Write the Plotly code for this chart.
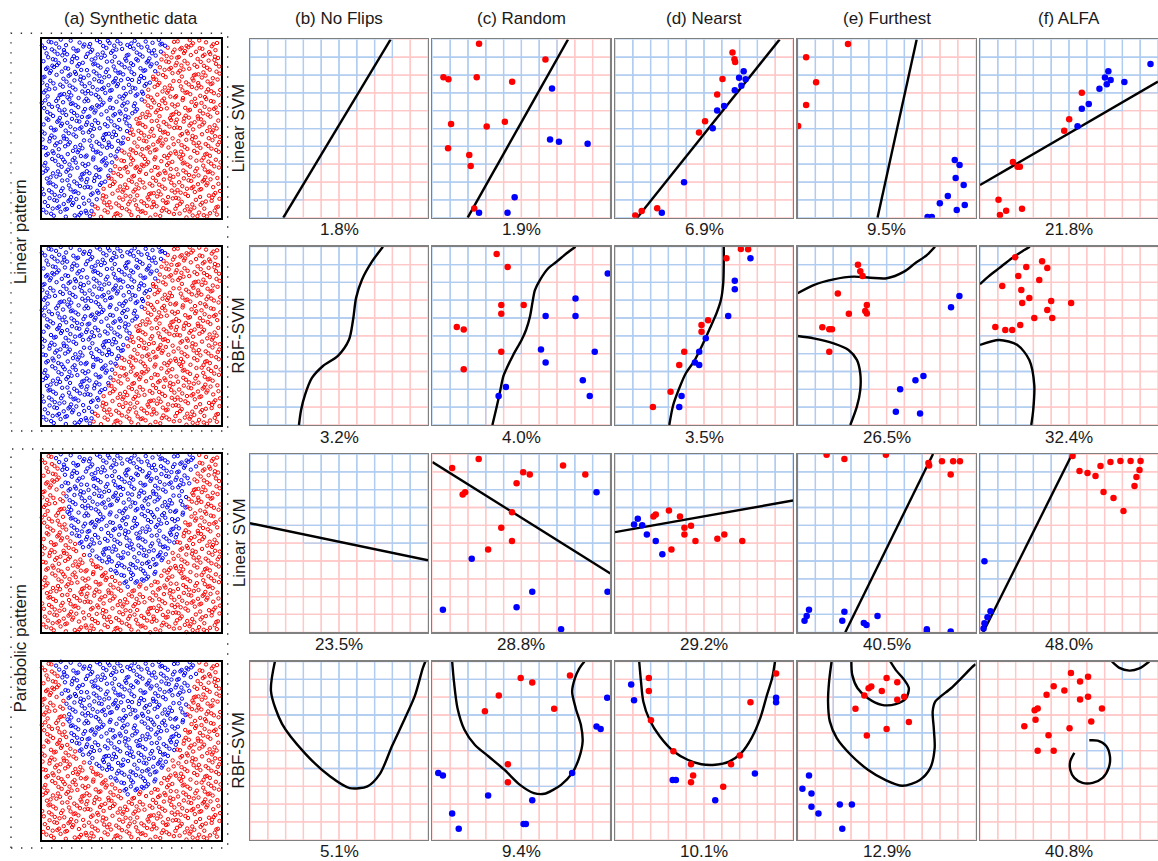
import numpy as np
import plotly.graph_objects as go

W, H = 1158, 861

COL_TITLES = ["(a) Synthetic data", "(b) No Flips", "(c) Random", "(d) Nearst", "(e) Furthest", "(f) ALFA"]
ROW_LABELS = ["Linear SVM", "RBF-SVM", "Linear SVM", "RBF-SVM"]
GROUP_LABELS = ["Linear pattern", "Parabolic pattern"]
ERROR_RATES = [
    ["1.8%", "1.9%", "6.9%", "9.5%", "21.8%"],
    ["3.2%", "4.0%", "3.5%", "26.5%", "32.4%"],
    ["23.5%", "28.8%", "29.2%", "40.5%", "48.0%"],
    ["5.1%", "9.4%", "10.1%", "12.9%", "40.8%"],
]

# ---- synthetic data class boundaries (panel units 0..10) ----
LIN_PATTERN_LINE = [[2.7, 0.0], [7.15, 10.0]]
PARA_H = [2.4, 3.3, 5.14, 7.0, 10.0]
PARA_L = [5.0, 3.8, 1.7, 1.4, 0.7]
PARA_R = [5.0, 6.4, 7.5, 8.1, 8.8]
N_SYNTH = 1050

# ---- row 1 : linear pattern, linear SVM ----
B1_LINE = [[1.87, 0.0], [7.90, 10.0]]
C1_LINE = [[1.98, 0.0], [7.62, 10.0]]
C1_RED = [[2.62, 9.76], [6.35, 8.87], [0.62, 7.88], [0.90, 7.77], [2.49, 7.88], [4.48, 7.62], [1.05, 5.25],
          [3.05, 5.12], [4.07, 5.38], [0.88, 3.90], [2.07, 3.51], [2.15, 2.90], [2.35, 0.52]]
C1_BLUE = [[6.72, 7.24], [6.61, 4.39], [7.11, 4.26], [8.72, 4.15], [4.62, 1.14], [2.62, 0.28], [4.22, 0.28]]
D1_LINE = [[1.25, 0.0], [9.25, 10.0]]
D1_RED = [[6.60, 9.26], [6.71, 8.88], [6.75, 8.73], [6.04, 7.78], [5.74, 6.91], [5.06, 5.41], [4.72, 4.78],
          [2.37, 0.53], [1.50, 0.37], [1.14, 0.13]]
D1_BLUE = [[7.23, 8.22], [6.97, 7.85], [7.34, 7.76], [7.10, 7.40], [6.73, 7.15], [6.13, 6.27], [5.74, 6.01],
           [5.49, 5.02], [3.88, 1.99], [2.63, 0.28]]
E1_LINE = [[4.49, 0.0], [6.69, 10.0]]
E1_RED = [[2.83, 9.74], [0.48, 9.0], [1.04, 7.6], [0.48, 6.32], [0.03, 5.14]]
E1_BLUE = [[8.83, 3.23], [9.10, 2.95], [8.88, 2.23], [9.33, 1.83], [8.44, 1.22], [7.99, 0.81], [8.94, 0.43],
           [9.39, 0.71], [7.30, 0.04], [7.54, 0.04]]
F1_LINE = [[0.0, 1.83], [10.0, 7.63]]
F1_RED = [[5.72, 7.01], [5.01, 5.52], [4.73, 4.88], [1.85, 3.12], [2.11, 2.86], [2.24, 2.86], [1.04, 1.01],
          [1.47, 0.39], [1.12, 0.15], [2.36, 0.50]]
F1_BLUE = [[9.58, 8.62], [7.21, 8.22], [7.02, 7.87], [7.34, 7.72], [8.11, 7.61], [7.12, 7.48], [6.71, 7.23],
           [6.11, 6.37], [5.72, 6.11], [5.48, 5.13]]

# ---- row 2 : linear pattern, RBF SVM ----
B2_CURVE = [[7.47, 10], [6.85, 9.16], [6.29, 8.15], [5.96, 7.13], [5.79, 5.90], [5.56, 4.78], [4.94, 3.88],
            [4.10, 3.31], [3.48, 2.64], [3.09, 1.69], [2.87, 0.84], [2.75, 0]]
C2_CURVE = [[8.04, 10.0], [7.54, 9.63], [6.98, 9.16], [6.51, 8.79], [6.04, 8.13], [5.76, 7.57], [5.63, 6.92],
            [5.48, 6.07], [5.26, 5.33], [5.01, 4.77], [4.54, 3.93], [4.13, 3.08], [3.98, 2.71], [3.76, 1.68],
            [3.57, 0.84], [3.37, 0.0]]
C2_RED = [[3.61, 9.59], [4.23, 8.86], [3.87, 6.73], [5.13, 6.73], [3.87, 6.24], [1.37, 5.50], [1.76, 5.36],
          [3.87, 4.11], [1.76, 3.12]]
C2_BLUE = [[9.85, 8.49], [8.04, 7.10], [6.36, 6.11], [8.04, 6.11], [6.10, 4.24], [9.12, 4.11], [6.36, 3.50],
           [8.45, 2.51], [4.13, 2.13], [3.72, 1.63], [8.84, 1.63]]
D2_CURVE = [[6.11, 10.0], [6.11, 9.07], [6.08, 7.95], [5.95, 7.01], [5.70, 6.26], [5.33, 5.42], [4.86, 4.39],
            [4.43, 3.55], [3.98, 2.90], [3.61, 2.06], [3.27, 1.12], [3.05, 0.0]]
D2_RED = [[7.07, 9.87], [7.48, 9.85], [6.26, 9.35], [5.23, 5.87], [4.86, 5.61], [4.86, 5.23], [3.89, 4.11],
          [3.61, 3.37], [3.12, 1.87], [2.13, 1.01]]
D2_BLUE = [[7.61, 9.35], [6.73, 8.09], [6.73, 7.61], [6.36, 6.11], [5.10, 4.86], [4.73, 4.11], [4.49, 3.50],
           [4.73, 3.37], [3.74, 1.63], [3.61, 1.01]]
E2_CURVE_A = [[0.0, 7.39], [0.90, 7.85], [2.02, 8.17], [3.14, 8.32], [4.08, 8.26], [5.01, 8.23], [5.98, 8.60],
              [6.60, 9.07], [7.26, 9.53], [7.72, 10.0]]
E2_CURVE_B = [[0.0, 4.99], [0.90, 4.86], [2.02, 4.58], [2.86, 4.21], [3.33, 3.65], [3.52, 2.90], [3.52, 1.96],
              [3.33, 1.03], [2.96, 0.0]]
E2_RED = [[3.39, 8.99], [3.52, 8.62], [3.65, 8.36], [2.26, 7.37], [3.89, 6.73], [3.80, 6.39], [3.89, 6.26],
          [2.88, 6.24], [1.39, 5.48], [1.78, 5.37], [1.93, 5.37], [1.78, 4.11]]
E2_BLUE = [[9.09, 7.23], [8.62, 6.60], [7.07, 2.75], [6.62, 2.51], [5.76, 2.00], [5.52, 0.75], [6.88, 0.64]]
F2_CURVE_A = [[0.0, 7.9], [0.5, 8.35], [1.08, 8.8], [1.81, 9.37], [2.49, 9.81], [2.8, 10.0]]
F2_CURVE_B = [[0.0, 4.49], [1.08, 4.77], [2.1, 4.49], [2.77, 3.65], [3.05, 2.24], [2.99, 0.84], [2.88, 0.0]]
F2_RED = [[1.98, 9.41], [3.49, 9.19], [2.60, 8.86], [3.78, 8.80], [2.15, 8.36], [3.33, 8.13], [1.25, 7.80],
          [2.32, 7.57], [2.77, 7.12], [2.37, 6.84], [4.00, 6.95], [5.12, 6.84], [3.78, 6.45], [4.06, 6.00],
          [3.05, 6.00], [0.86, 5.50], [1.42, 5.33], [1.81, 5.33], [2.26, 5.61]]

# ---- row 3 : parabolic pattern, linear SVM ----
B3_LINE = [[0.0, 6.12], [10.0, 4.04]]
C3_LINE = [[0.0, 9.55], [10.0, 3.30]]
C3_RED = [[1.11, 9.22], [2.60, 9.72], [5.10, 8.98], [5.47, 8.85], [7.34, 9.35], [8.59, 8.85], [4.73, 8.36],
          [1.70, 7.73], [1.84, 7.86], [4.47, 6.74], [3.87, 5.87], [4.47, 5.12], [3.13, 4.64]]
C3_BLUE = [[9.22, 7.86], [2.21, 4.13], [5.61, 2.27], [9.84, 2.27], [0.59, 1.27], [4.73, 1.40], [7.23, 0.17]]
C3_PINK_CELLS = [[0, 9], [1, 9]]
D3_LINE = [[0.0, 5.62], [10.0, 7.39]]
D3_RED = [[2.29, 6.61], [2.16, 6.50], [3.03, 6.83], [3.65, 6.50], [3.90, 5.87], [4.27, 5.98], [3.90, 5.49],
          [4.52, 5.12], [5.75, 5.25], [6.14, 5.49], [7.15, 5.12], [3.17, 4.64]]
D3_BLUE = [[1.28, 6.37], [1.07, 6.05], [1.53, 6.00], [1.79, 5.49], [2.29, 5.12], [2.66, 4.38]]
E3_LINE = [[2.68, 0.0], [7.61, 10.0]]
E3_RED = [[1.63, 9.96], [2.63, 9.72], [4.96, 9.96], [7.35, 9.50], [7.39, 9.35], [8.11, 9.59], [8.74, 9.59],
          [9.12, 9.59], [8.60, 8.85]]
E3_BLUE = [[0.64, 1.27], [0.51, 0.91], [0.39, 0.65], [2.63, 1.15], [2.51, 0.65], [3.72, 0.52], [3.87, 0.41],
           [4.49, 0.91], [7.26, 0.17], [7.26, 0.04], [8.60, 0.04]]
F3_LINE = [[0.18, 0.0], [5.18, 10.0]]
F3_RED = [[5.20, 9.89], [5.59, 9.04], [6.04, 8.93], [6.49, 8.76], [6.77, 9.33], [7.33, 9.55], [7.89, 9.61],
          [8.46, 9.61], [9.02, 9.61], [6.94, 7.87], [7.50, 7.53], [8.68, 8.20], [8.79, 8.71], [8.96, 9.10],
          [8.06, 6.80]]
F3_BLUE = [[0.25, 3.99], [0.25, 0.51], [0.42, 0.84], [0.59, 1.18], [0.20, 0.22]]

# ---- row 4 : parabolic pattern, RBF SVM ----
B4_CURVE = [[1.4, 10], [1.18, 8.33], [1.8, 6.5], [3.09, 4.85], [4.49, 3.56], [5.6, 2.9], [6.6, 3.0], [7.3, 3.7],
            [7.98, 5.26], [8.7, 6.8], [9.27, 8.1], [9.7, 9.6], [9.85, 10]]
C4_CURVE = [[1.11, 10.0], [1.21, 8.88], [1.41, 7.38], [1.80, 6.17], [2.38, 5.33], [3.16, 4.67], [4.04, 3.93],
            [4.92, 3.08], [5.70, 2.62], [6.29, 2.58], [6.78, 2.80], [7.23, 3.08], [7.85, 3.74], [8.24, 4.58],
            [8.44, 5.51], [8.34, 6.45], [8.05, 7.38], [7.85, 8.32], [8.01, 9.07], [8.24, 9.59], [8.54, 10.0]]
C4_RED = [[4.96, 9.07], [5.61, 8.82], [3.73, 8.09], [2.95, 7.21], [6.84, 7.35], [7.73, 9.21], [4.24, 4.24],
          [4.24, 3.23]]
C4_BLUE = [[9.82, 7.96], [9.22, 6.36], [9.45, 6.22], [7.85, 3.74], [0.33, 3.74], [0.59, 3.61], [3.13, 2.49],
           [5.61, 2.22], [1.11, 1.48], [1.48, 0.62], [5.12, 0.88], [5.25, 0.88]]
D4_CURVE = [[1.36, 10.0], [1.46, 8.88], [1.59, 7.76], [1.94, 6.73], [2.52, 5.79], [3.30, 4.95], [4.08, 4.49],
            [4.85, 4.24], [5.63, 4.21], [6.41, 4.39], [7.09, 4.86], [7.67, 5.70], [8.16, 6.82], [8.54, 8.13],
            [8.83, 9.07], [8.99, 10.0]]
D4_RED = [[1.90, 9.08], [1.90, 8.34], [2.02, 6.71], [3.28, 4.97], [4.27, 4.24], [4.39, 3.61], [4.27, 3.23],
          [6.52, 4.24], [7.01, 4.73], [7.61, 7.72], [9.05, 9.33], [6.08, 2.97]]
D4_BLUE = [[0.91, 8.71], [1.07, 7.83], [3.24, 3.35], [3.42, 3.35], [7.86, 3.72], [5.63, 2.22], [9.05, 7.96],
           [9.05, 7.72]]
E4_CURVE_OUT = [[1.91, 10.0], [1.77, 8.88], [1.71, 7.76], [1.81, 6.64], [2.20, 5.70], [2.98, 4.77], [3.95, 3.93],
                [4.92, 3.36], [5.89, 3.03], [6.87, 3.36], [7.45, 4.02], [7.70, 5.14], [7.65, 6.26], [7.59, 7.20],
                [7.74, 7.76], [8.04, 8.04], [8.62, 8.50], [9.20, 9.07], [9.84, 9.72], [10.0, 9.85]]
E4_CURVE_IN = [[3.02, 10.0], [3.07, 9.25], [3.37, 8.50], [3.95, 7.94], [4.73, 7.57], [5.51, 7.61], [6.09, 7.94],
               [6.25, 8.50], [5.99, 8.97], [5.51, 9.53], [5.21, 10.0]]
E4_RED = [[5.00, 9.08], [5.60, 8.84], [4.73, 8.34], [3.99, 8.50], [4.14, 8.60], [3.75, 8.09], [5.60, 7.85],
          [5.99, 8.02], [3.25, 7.35], [6.25, 6.60], [5.00, 6.22], [3.89, 5.85]]
E4_BLUE = [[0.64, 3.61], [0.27, 2.86], [0.78, 2.60], [0.78, 1.85], [1.17, 1.48], [2.37, 1.98], [3.05, 1.98],
           [2.51, 0.62]]
F4_CURVE_ARC = [[7.41, 10.0], [7.83, 9.64], [8.39, 9.49], [8.95, 9.61], [9.51, 10.0]]
F4_CURVE_SPIRAL = [[6.14, 5.58], [6.61, 5.56], [7.08, 5.28], [7.30, 4.68], [7.23, 4.03], [6.89, 3.47],
                   [6.33, 3.19], [5.76, 3.19], [5.30, 3.47], [5.07, 3.93], [5.07, 4.40], [5.30, 4.87]]
F4_BLUE_CELLS = [[6, 5], [6, 4], [7, 4], [8, 9]]
F4_RED = [[5.11, 9.36], [6.07, 9.14], [5.62, 8.88], [4.14, 8.61], [4.74, 8.37], [3.74, 8.13], [5.62, 7.87],
          [6.07, 8.02], [3.24, 7.36], [3.07, 7.26], [6.85, 7.36], [3.12, 6.74], [6.25, 6.63], [2.49, 6.37],
          [5.03, 6.25], [3.85, 5.86], [3.24, 5.00], [4.14, 5.00]]

TOP_LEFT, BOT_LEFT, TOP_RIGHT = [0.0, 10.0], [0.0, 0.0], [10.0, 10.0]

# panel specs: (row, col) -> dict
PANELS = {
    (0, 1): dict(line=B1_LINE, blue_at=TOP_LEFT, red=[], blue=[]),
    (0, 2): dict(line=C1_LINE, blue_at=TOP_LEFT, red=C1_RED, blue=C1_BLUE),
    (0, 3): dict(line=D1_LINE, blue_at=TOP_LEFT, red=D1_RED, blue=D1_BLUE),
    (0, 4): dict(line=E1_LINE, blue_at=TOP_LEFT, red=E1_RED, blue=E1_BLUE),
    (0, 5): dict(line=F1_LINE, blue_at=TOP_LEFT, red=F1_RED, blue=F1_BLUE),
    (1, 1): dict(curves=[B2_CURVE], add=[B2_CURVE + [BOT_LEFT, TOP_LEFT]], red=[], blue=[]),
    (1, 2): dict(curves=[C2_CURVE], add=[C2_CURVE + [BOT_LEFT, TOP_LEFT]], red=C2_RED, blue=C2_BLUE),
    (1, 3): dict(curves=[D2_CURVE], add=[D2_CURVE + [BOT_LEFT, TOP_LEFT]], red=D2_RED, blue=D2_BLUE),
    (1, 4): dict(curves=[E2_CURVE_A, E2_CURVE_B], add=[E2_CURVE_A + [TOP_LEFT], E2_CURVE_B + [BOT_LEFT]],
                 red=E2_RED, blue=E2_BLUE),
    (1, 5): dict(curves=[F2_CURVE_A, F2_CURVE_B], add=[F2_CURVE_A + [TOP_LEFT], F2_CURVE_B + [BOT_LEFT]],
                 red=F2_RED, blue=[]),
    (2, 1): dict(line=B3_LINE, blue_at=TOP_LEFT, red=[], blue=[]),
    (2, 2): dict(line=C3_LINE, blue_at=TOP_RIGHT, red=C3_RED, blue=C3_BLUE, pink_cells=C3_PINK_CELLS),
    (2, 3): dict(line=D3_LINE, blue_at=TOP_LEFT, red=D3_RED, blue=D3_BLUE),
    (2, 4): dict(line=E3_LINE, blue_at=TOP_LEFT, red=E3_RED, blue=E3_BLUE),
    (2, 5): dict(line=F3_LINE, blue_at=TOP_LEFT, red=F3_RED, blue=F3_BLUE),
    (3, 1): dict(curves=[B4_CURVE], add=[B4_CURVE], red=[], blue=[]),
    (3, 2): dict(curves=[C4_CURVE], add=[C4_CURVE], red=C4_RED, blue=C4_BLUE),
    (3, 3): dict(curves=[D4_CURVE], add=[D4_CURVE], red=D4_RED, blue=D4_BLUE),
    (3, 4): dict(curves=[E4_CURVE_OUT, E4_CURVE_IN], add=[E4_CURVE_OUT + [TOP_RIGHT]], sub=[E4_CURVE_IN],
                 red=E4_RED, blue=E4_BLUE),
    (3, 5): dict(curves=[F4_CURVE_ARC, F4_CURVE_SPIRAL], cells=F4_BLUE_CELLS, red=F4_RED, blue=[]),
}

# ---- layout geometry (pixels) ----
COL_X = [41.7, 250.0, 432.4, 615.0, 797.6, 980.0]
ROW_Y = [39.4, 246.7, 454.0, 661.5]
PW, PH = 178.0, 178.3
A_W = 179.0

BLUE_GRID = "rgb(176,204,240)"
PINK_GRID = "rgb(255,200,200)"
RED = "#ff0000"
BLUE = "#0000ff"
FONT = "Liberation Sans, Arial, Helvetica, sans-serif"
FS = 17


def halton(n, base):
    out = np.zeros(n)
    for i in range(n):
        f, r, k = 1.0, 0.0, i + 1
        while k > 0:
            f /= base
            r += f * (k % base)
            k //= base
        out[i] = r
    return out


def inside_poly(px, py, poly):
    poly = np.asarray(poly, float)
    n = len(poly)
    inside = False
    j = n - 1
    for i in range(n):
        xi, yi = poly[i]
        xj, yj = poly[j]
        if (yi > py) != (yj > py):
            xc = (xj - xi) * (py - yi) / (yj - yi) + xi
            if px < xc:
                inside = not inside
        j = i
    return inside


def side(line, p):
    (x1, y1), (x2, y2) = line
    return np.sign((x2 - x1) * (p[1] - y1) - (y2 - y1) * (p[0] - x1))


def cell_classes(spec):
    cls = np.zeros((10, 10), bool)
    for j in range(10):
        for i in range(10):
            c = (i + 0.5, j + 0.5)
            if "line" in spec:
                b = side(spec["line"], c) == side(spec["line"], spec["blue_at"])
            elif "cells" in spec:
                b = [i, j] in spec["cells"]
            else:
                b = any(inside_poly(c[0], c[1], p) for p in spec.get("add", []))
                if b and any(inside_poly(c[0], c[1], p) for p in spec.get("sub", [])):
                    b = False
            if [i, j] in spec.get("pink_cells", []):
                b = False
            cls[j, i] = b
    return cls


fig = go.Figure()
layout_axes = {}
counter = [0]


def new_axes(x0, y0, w, h, line_color, line_width):
    counter[0] += 1
    n = counter[0]
    sx = "" if n == 1 else str(n)
    common = dict(range=[0, 10], showgrid=False, zeroline=False, showticklabels=False, ticks="",
                  showline=True, mirror=True, linecolor=line_color, linewidth=line_width, fixedrange=True)
    layout_axes["xaxis" + sx] = dict(domain=[max(0, x0 / W), min(1, (x0 + w) / W)], anchor="y" + sx, **common)
    layout_axes["yaxis" + sx] = dict(domain=[max(0, 1 - (y0 + h) / H), min(1, 1 - y0 / H)], anchor="x" + sx,
                                     **common)
    return "x" + sx, "y" + sx


# ---- column (a): synthetic data ----
hx = halton(N_SYNTH, 2) * 10
hy = halton(N_SYNTH, 3) * 10
(lx1, ly1), (lx2, ly2) = LIN_PATTERN_LINE
lin_blue = (lx2 - lx1) * (hy - ly1) - (ly2 - ly1) * (hx - lx1) > 0
para_l = np.interp(hy, PARA_H, PARA_L)
para_r = np.interp(hy, PARA_H, PARA_R)
para_blue = (hy >= PARA_H[0]) & (hx >= para_l) & (hx <= para_r)
for r in range(4):
    xa, ya = new_axes(COL_X[0], ROW_Y[r], A_W, PH, "black", 2)
    mask = lin_blue if r < 2 else para_blue
    for m, col in ((~mask, RED), (mask, BLUE)):
        fig.add_trace(go.Scatter(x=hx[m], y=hy[m], mode="markers", xaxis=xa, yaxis=ya, hoverinfo="skip",
                                 marker=dict(symbol="circle-open", size=3.4, color=col, line=dict(width=1.0)),
                                 showlegend=False, cliponaxis=False))

# ---- columns (b)-(f) ----
for (r, c), spec in PANELS.items():
    xa, ya = new_axes(COL_X[c], ROW_Y[r], PW, PH, "#808080", 1.3)
    cls = cell_classes(spec)
    segs = {True: ([], []), False: ([], [])}
    for j in range(10):
        for i in range(10):
            sx_, sy_ = segs[bool(cls[j, i])]
            sx_ += [i, i + 1, i + 1, i, i, None]
            sy_ += [j, j, j + 1, j + 1, j, None]
    for key, col in ((False, PINK_GRID), (True, BLUE_GRID)):
        fig.add_trace(go.Scatter(x=segs[key][0], y=segs[key][1], mode="lines", xaxis=xa, yaxis=ya,
                                 line=dict(color=col, width=1.3), hoverinfo="skip", showlegend=False))
    curves = [spec["line"]] if "line" in spec else spec["curves"]
    for cv in curves:
        cv = np.asarray(cv, float)
        fig.add_trace(go.Scatter(x=cv[:, 0], y=cv[:, 1], mode="lines", xaxis=xa, yaxis=ya,
                                 line=dict(color="black", width=2.4, shape="spline", smoothing=0.8),
                                 hoverinfo="skip", showlegend=False))
    for pts, col in ((spec["red"], RED), (spec["blue"], BLUE)):
        if len(pts):
            p = np.asarray(pts, float)
            fig.add_trace(go.Scatter(x=p[:, 0], y=p[:, 1], mode="markers", xaxis=xa, yaxis=ya,
                                     marker=dict(size=6.5, color=col), hoverinfo="skip", showlegend=False))

annotations = []


def label(text, xpx, ypx, angle=0):
    annotations.append(dict(text=text, x=xpx / W, y=1 - ypx / H, xref="paper", yref="paper", showarrow=False,
                            xanchor="center", yanchor="middle", textangle=angle,
                            font=dict(size=FS, color="#1a1a1a", family=FONT)))


for c, t in enumerate(COL_TITLES):
    w = A_W if c == 0 else PW
    label(t, COL_X[c] + w / 2, 18)
for r in range(4):
    for c in range(5):
        label(ERROR_RATES[r][c], COL_X[c + 1] + PW / 2, ROW_Y[r] + PH + 12)
    label(ROW_LABELS[r], 239, ROW_Y[r] + PH / 2, -90)
GROUP_BOX = [[33.3, 431], [449, 848]]
for g, lab in enumerate(GROUP_LABELS):
    label(lab, 20, (GROUP_BOX[g][0] + GROUP_BOX[g][1]) / 2, -90)

shapes = []
for top, bot in GROUP_BOX:
    shapes.append(dict(type="rect", xref="paper", yref="paper", x0=11 / W, x1=227.7 / W, y0=1 - bot / H,
                       y1=1 - top / H, line=dict(color="#333", width=1.4, dash="1.4px,8.6px")))

fig.update_layout(width=W, height=H, margin=dict(l=0, r=0, t=0, b=0, autoexpand=False), autosize=False,
                  paper_bgcolor="white", plot_bgcolor="white", showlegend=False,
                  annotations=annotations, shapes=shapes, **layout_axes)
fig.write_html("out.html", config={"displayModeBar": False, "staticPlot": True},
               post_script="document.body.style.margin='0';document.body.style.padding='0';")
